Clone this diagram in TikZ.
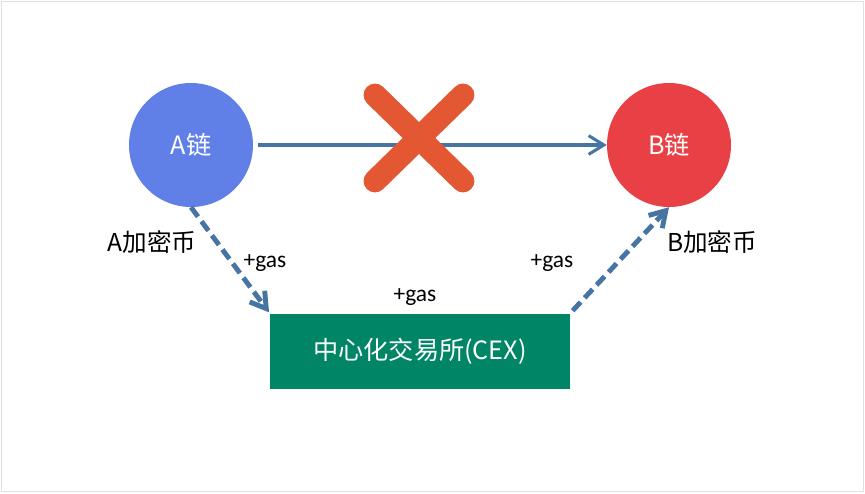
\documentclass[tikz,border=0pt]{standalone}
\usepackage{fontspec}
\setmainfont{Carlito}
\newfontfamily\cjk{Noto Sans CJK SC}
\usetikzlibrary{positioning}
\usetikzlibrary{arrows.meta}
\definecolor{chainA}{RGB}{96,128,232}
\definecolor{chainB}{RGB}{233,64,70}
\definecolor{flow}{RGB}{70,117,164}
\definecolor{cross}{RGB}{227,87,51}
\definecolor{cexgreen}{RGB}{0,133,102}

\begin{document}
\begin{tikzpicture}[x=0.03cm,y=-0.03cm,
                    >={Straight Barb[length=13pt,width=16pt]},
                    chain/.style={circle,minimum size=3.72cm,inner sep=0pt,
                                  text=white,font=\cjk\fontsize{21.5}{24}\selectfont},
                    exchange/.style={rectangle,fill=cexgreen,minimum width=9cm,
                                     minimum height=2.25cm,text=white,
                                     font=\cjk\fontsize{21.5}{26}\selectfont},
                    coin/.style={font=\cjk\fontsize{21}{24}\selectfont},
                    fee/.style={font=\fontsize{20}{22}\selectfont},
                    transfer/.style={->,draw=flow,line width=4.2pt,
                                     dash pattern=on 10pt off 5pt}]
\useasboundingbox (0,0) rectangle (865,493);
\draw[black!12,line width=1pt] (1.5,1.5) rectangle (863.5,491.5);
\node[chain,fill=chainA] (A) at (191,145) {A链};
\node[chain,fill=chainB] (B) at (669,145) {B链};
\node[exchange] (cex) at (420,351) {中心化交易所(CEX)};
\node[coin] (coinA) at (152,242) {A加密币};
\node[coin] (coinB) at (712,242) {B加密币};
\node[fee] (gasA) at (265,263) {+gas};
\node[fee] (gasC) at (415,297) {+gas};
\node[fee] (gasB) at (552,263) {+gas};
\path (A) edge [->,draw=flow,line width=2.6pt,shorten <=4pt] (B)
      (A.south) edge [transfer,shorten >=1pt] (cex.north west)
      (cex.north east) edge [transfer,shorten <=3pt] (B.south);
% no direct route
\coordinate (X) at (419,138);
\draw[cross,line width=19.5pt,line cap=round]
     ([shift={(-44,-43)}]X) -- ([shift={(44,43)}]X)
     ([shift={(44,-43)}]X) -- ([shift={(-44,43)}]X);
\end{tikzpicture}
\end{document}
